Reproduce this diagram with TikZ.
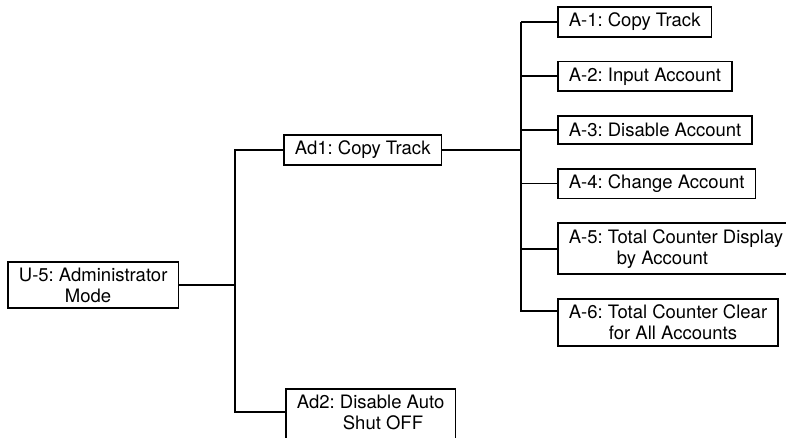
\documentclass[tikz,border=0pt]{standalone}
\usepackage{fontspec}
\setmainfont{TeX Gyre Heros}
\usetikzlibrary{positioning}
\frenchspacing

\begin{document}
\begin{tikzpicture}[x=0.5pt,y=-0.5pt,node distance=11.5pt,
  item/.style={rectangle,draw,line width=0.9pt,inner xsep=5.5pt,inner ysep=3pt,
    minimum height=14pt,align=left,font=\fontsize{9.25}{10.5}\selectfont},
  tree/.style={line width=0.9pt}]
  \useasboundingbox (0,0) rectangle (786,438);
  \clip (0,0) rectangle (786,438);
  % the two vertical rails of the tree
  \coordinate (trunk) at (235,0);
  \coordinate (branch) at (521,0);
  \node[item,anchor=west] (u5) at (7,285) {U-5: Administrator\\\hspace*{23pt}Mode};
  \node[item,anchor=west] (ad1) at (283,150) {Ad1: Copy Track};
  % bottom box runs past the lower edge of the page
  \node[item,anchor=north west,text depth=8pt] (ad2) at (285,388) {Ad2: Disable Auto\\\hspace*{23pt}Shut OFF};
  \node[item,anchor=north west] (a1) at (557,6) {A-1: Copy Track};
  \node[item,below=of a1.south west,anchor=north west] (a2) {A-2: Input Account};
  \node[item,below=of a2.south west,anchor=north west] (a3) {A-3: Disable Account};
  \node[item,below=of a3.south west,anchor=north west] (a4) {A-4: Change Account};
  \node[item,below=of a4.south west,anchor=north west] (a5) {A-5: Total Counter Display\\\hspace*{24pt}by Account};
  \node[item,below=of a5.south west,anchor=north west] (a6) {A-6: Total Counter Clear\\\hspace*{20pt}for All Accounts};
  % these two are fed near their first line, not at mid height
  \coordinate (a6tap) at ([yshift=-6.5pt]a6.north west);
  \coordinate (ad2tap) at ([yshift=-12pt]ad2.north west);
  \draw[tree] (u5.east) -- (u5.east -| trunk);
  \draw[tree] (ad1.west) -- (ad1.west -| trunk) -- (ad2tap -| trunk) -- (ad2tap);
  \draw[tree] (ad1.east) -- (ad1.east -| branch);
  \draw[tree] (a1.west -| branch) -- (a6tap -| branch) -- (a6tap);
  \foreach \n in {a1,a2,a3,a4,a5}
    \draw[tree] (\n.west -| branch) -- (\n.west);
\end{tikzpicture}
\end{document}
